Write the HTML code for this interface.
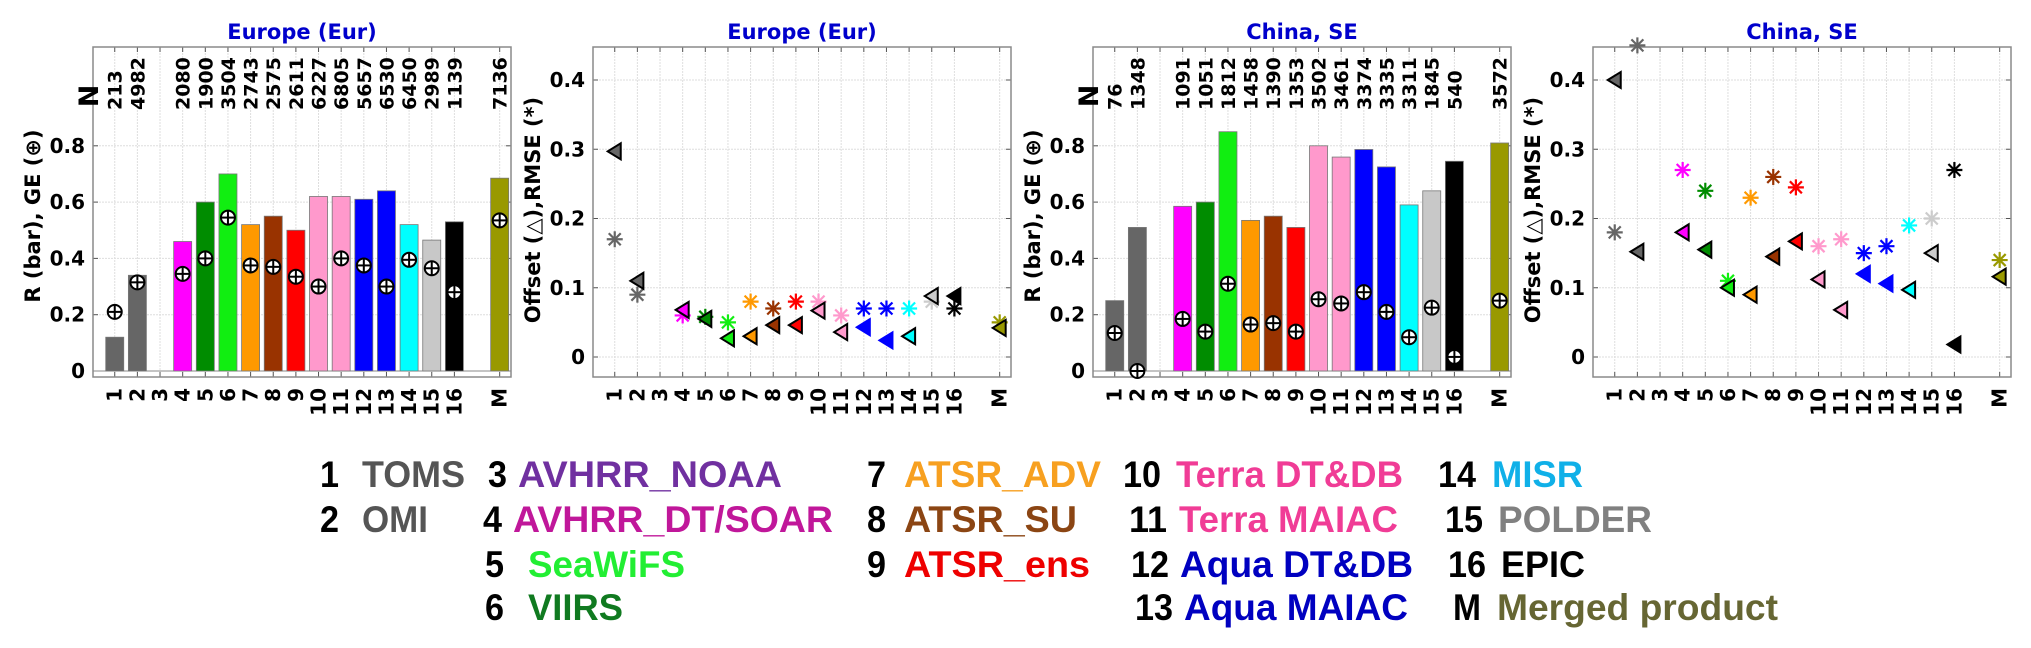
<!DOCTYPE html>
<html><head><meta charset="utf-8">
<style>
html,body{margin:0;padding:0;background:#fff;}
svg{display:block;}
.ax{font-family:"DejaVu Sans","Liberation Sans",sans-serif;font-weight:bold;}
</style></head>
<body>
<svg id="fig" width="2031" height="648" viewBox="0 0 2031 648" xmlns="http://www.w3.org/2000/svg">
<g id="legend" font-family="Liberation Sans, sans-serif" font-weight="bold" font-size="37"></g>
</svg>
<script>
// ---- data ----
const categories = ["1","2","3","4","5","6","7","8","9","10","11","12","13","14","15","16","M"];
const catPos = [1,2,3,4,5,6,7,8,9,10,11,12,13,14,15,16,18];
const colors = ["#666666","#666666","#7030a0","#ff00ff","#008c00","#11ee11","#ff9900","#993300","#ff0000","#ff99cc","#ff99cc","#0000ff","#0000ff","#00ffff","#c8c8c8","#000000","#999900"];
const eurR  = [0.12,0.34,null,0.46,0.60,0.70,0.52,0.55,0.50,0.62,0.62,0.61,0.64,0.52,0.465,0.53,0.685];
const eurGE = [0.21,0.315,null,0.345,0.40,0.545,0.375,0.37,0.335,0.30,0.40,0.375,0.30,0.395,0.365,0.28,0.535];
const eurN  = ["213","4982","","2080","1900","3504","2743","2575","2611","6227","6805","5657","6530","6450","2989","1139","7136"];
const eurOff  = [0.297,0.11,null,0.068,0.055,0.027,0.03,0.046,0.046,0.067,0.036,0.043,0.024,0.03,0.088,0.088,0.042];
const eurRMSE = [0.17,0.09,null,0.06,0.058,0.05,0.08,0.07,0.08,0.08,0.06,0.07,0.07,0.07,0.08,0.07,0.05];
const chnR  = [0.25,0.51,null,0.585,0.60,0.85,0.535,0.55,0.51,0.80,0.76,0.787,0.725,0.59,0.64,0.745,0.81];
const chnGE = [0.135,0.0,null,0.185,0.14,0.31,0.165,0.17,0.14,0.255,0.24,0.28,0.21,0.12,0.225,0.05,0.25];
const chnN  = ["76","1348","","1091","1051","1812","1458","1390","1353","3502","3461","3374","3335","3311","1845","540","3572"];
const chnOff  = [0.40,0.152,null,0.18,0.155,0.10,0.09,0.145,0.167,0.112,0.068,0.12,0.106,0.097,0.15,0.018,0.116];
const chnRMSE = [0.18,0.45,null,0.27,0.24,0.11,0.23,0.26,0.245,0.16,0.17,0.15,0.16,0.19,0.20,0.27,0.14];
const barTicks = [0,0.2,0.4,0.6,0.8];
const barTickLabels = ["0","0.2","0.4","0.6","0.8"];
const offTicks = [0,0.1,0.2,0.3,0.4];
const offTickLabels = ["0","0.1","0.2","0.3","0.4"];

const NS="http://www.w3.org/2000/svg";
const fig=document.getElementById('fig');
function mk(tag,attrs,parent){const e=document.createElementNS(NS,tag);for(const k in attrs)e.setAttribute(k,attrs[k]);(parent||fig).appendChild(e);return e;}

function panel(ox,title,kind,ylab){
  const L=ox+93,R=ox+511,T=47,B=377;
  const g=mk('g',{'class':'ax'});
  
  
  const x=v=>L+(v-0.04)*(R-L)/18.46;
  let y;
  if(kind==='bar'){y=v=>371-v*281.5;} else {y=v=>357-v*692.5;}
  mk('rect',{x:L,y:T,width:R-L,height:B-T,fill:'#fff'},g);
  const ticks=kind==='bar'?barTicks:offTicks, tl=kind==='bar'?barTickLabels:offTickLabels;
  catPos.forEach(p=>{mk('line',{x1:x(p),x2:x(p),y1:T,y2:B,stroke:'#dedede','stroke-width':1,'stroke-dasharray':'2,1'},g);});
  ticks.forEach((t,i)=>{
    mk('line',{x1:L,x2:R,y1:y(t),y2:y(t),stroke:'#dedede','stroke-width':1,'stroke-dasharray':'2,1'},g);
    mk('line',{x1:L,x2:L+5,y1:y(t),y2:y(t),stroke:'#555'},g);
    mk('line',{x1:R-5,x2:R,y1:y(t),y2:y(t),stroke:'#555'},g);
    const tx=mk('text',{x:L-8,y:y(t)+7,'text-anchor':'end','font-size':20,fill:'#000'},g);
    tx.textContent=tl[i];
    
    
  });
  if(kind==='bar'){mk('line',{x1:L,x2:R,y1:y(0),y2:y(0),stroke:'#888','stroke-width':1},g);}
  catPos.forEach((p,i)=>{
    mk('line',{x1:x(p),x2:x(p),y1:B,y2:B-5,stroke:'#555'},g);
    mk('line',{x1:x(p),x2:x(p),y1:T,y2:T+5,stroke:'#555'},g);
    const tx=mk('text',{x:0,y:0,'text-anchor':'end','font-size':20,fill:'#000',transform:`translate(${x(p)+7},388) rotate(-90)`},g);
    tx.textContent=categories[i];
    
    
  });
  mk('rect',{x:L,y:T,width:R-L,height:B-T,fill:'none',stroke:'#8a8a8a','stroke-width':1.5},g);
  const tt=mk('text',{x:(L+R)/2,y:39,'text-anchor':'middle','font-size':21,fill:'#0000cc'},g);
  tt.textContent=title;
  
  
  const yl=mk('text',{x:0,y:0,'text-anchor':'middle','font-size':21,fill:'#000',transform:`translate(${ox+40},${kind==='bar'?216:210}) rotate(-90)`},g);
  yl.textContent=ylab;
  
  
  return {g,x,y};
}

function barPanel(ox,title,R,GE,N){
  const {g,x,y}=panel(ox,title,'bar','R (bar), GE (\u2295)');
  const nl=mk('text',{x:0,y:0,'text-anchor':'middle','font-size':27,fill:'#000',transform:`translate(${ox+98},96) rotate(-90)`},g);
  nl.textContent='N';
  
  
  R.forEach((v,i)=>{
    if(v===null)return;
    const b=mk('rect',{x:x(catPos[i])-9,y:y(v),width:18,height:y(0)-y(v),fill:colors[i],stroke:'#777','stroke-width':0.8},g);
    
    
  });
  GE.forEach((v,i)=>{
    if(v===null)return;
    const cx=x(catPos[i]),cy=y(v);
    const m=mk('g',{},g);
    
    
    mk('circle',{cx,cy,r:7,fill:'#fff',stroke:'#000','stroke-width':2},m);
    mk('line',{x1:cx-7,x2:cx+7,y1:cy,y2:cy,stroke:'#000','stroke-width':2},m);
    mk('line',{x1:cx,x2:cx,y1:cy-7,y2:cy+7,stroke:'#000','stroke-width':2},m);
  });
  N.forEach((v,i)=>{
    if(!v)return;
    const t=mk('text',{x:0,y:0,'text-anchor':'start','font-size':19,fill:'#000',transform:`translate(${x(catPos[i])+7},110) rotate(-90)`},g);
    t.textContent=v;
    
    
  });
}

function offPanel(ox,title,OFF,RM){
  const {g,x,y}=panel(ox,title,'off','Offset (\u25B3),RMSE (*)');
  RM.forEach((v,i)=>{
    if(v===null)return;
    const cx=x(catPos[i]),cy=y(v);
    const c=i===14?'#cccccc':colors[i];
    const m=mk('g',{stroke:c,'stroke-width':2.2},g);
    
    
    [[0,-8,0,8],[-8,0,8,0],[-6,-6,6,6],[-6,6,6,-6]].forEach(d=>mk('line',{x1:cx+d[0],y1:cy+d[1],x2:cx+d[2],y2:cy+d[3]},m));
  });
  OFF.forEach((v,i)=>{
    if(v===null)return;
    const cx=x(catPos[i]),cy=y(v);
    const noEdge=(i===11||i===12||i===15);
    const c=i===14?'#cccccc':colors[i];
    const t=mk('polygon',{points:`${cx-7},${cy} ${cx+6},${cy-8} ${cx+6},${cy+8}`,fill:c,stroke:noEdge?c:'#000','stroke-width':2},g);
    
    
  });
}

barPanel(0,'Europe (Eur)',eurR,eurGE,eurN);
offPanel(500,'Europe (Eur)',eurOff,eurRMSE);
barPanel(1000,'China, SE',chnR,chnGE,chnN);
offPanel(1500,'China, SE',chnOff,chnRMSE);

// legend
const lg=document.getElementById('legend');
const legendItems=[
 ["1",320,487,"TOMS",362,465,"#555555"],
 ["2",320,532,"OMI",362,428,"#555555"],
 ["3",488,487,"AVHRR_NOAA",518,782,"#7030a0"],
 ["4",483,532,"AVHRR_DT/SOAR",513,833,"#c0179a"],
 ["5",485,577,"SeaWiFS",528,685,"#22ee33"],
 ["6",485,620,"VIIRS",528,623,"#107a20"],
 ["7",867,487,"ATSR_ADV",904,1101,"#f7a020"],
 ["8",867,532,"ATSR_SU",904,1077,"#8b4513"],
 ["9",867,577,"ATSR_ens",904,1090,"#ee0000"],
 ["10",1123,487,"Terra DT&DB",1176,1403,"#f03c96"],
 ["11",1129,532,"Terra MAIAC",1179,1398,"#f03c96"],
 ["12",1131,577,"Aqua DT&DB",1180,1413,"#0000c0"],
 ["13",1135,620,"Aqua MAIAC",1184,1408,"#0000c0"],
 ["14",1438,487,"MISR",1492,1583,"#10b0e8"],
 ["15",1445,532,"POLDER",1498,1652,"#808080"],
 ["16",1448,577,"EPIC",1501,1585,"#000000"],
 ["M",1453,620,"Merged product",1497,1778,"#666633"]
];
legendItems.forEach(it=>{
  const n=mk('text',{x:it[1],y:it[2],fill:'#000','font-size':37,textLength:(it[0]==='M'?28:it[0].length*19),lengthAdjust:'spacingAndGlyphs'},lg);
  n.textContent=it[0];
  
  
  const t=mk('text',{x:it[4],y:it[2],fill:it[6],'font-size':37,textLength:it[5]-it[4],lengthAdjust:'spacingAndGlyphs'},lg);
  t.textContent=it[3];
  
  
});
</script>
</body></html>
